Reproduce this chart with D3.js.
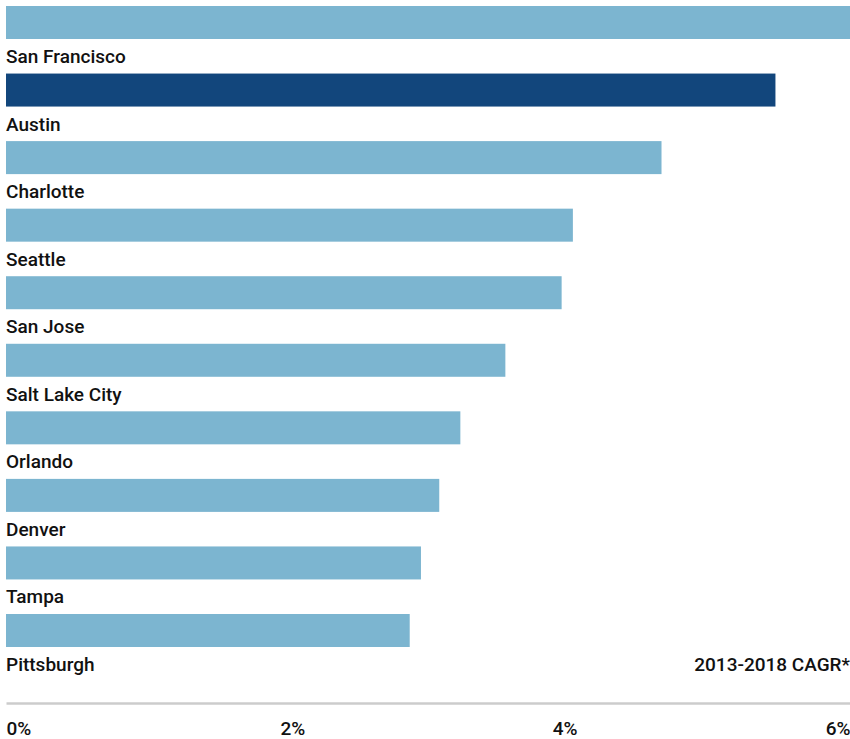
<!DOCTYPE html>
<html>
<head>
<meta charset="utf-8">
<script src="https://cdn.jsdelivr.net/npm/d3@7"></script>
<style>
  body { margin: 0; background: #fff; }
  svg text { font-family: Roboto, "Liberation Sans", sans-serif; fill: #111; font-weight: 500; }
</style>
</head>
<body>
<div id="chart"></div>
<script>
// city job growth, 2013-2018 CAGR (%)
const cities = ["San Francisco", "Austin", "Charlotte", "Seattle", "San Jose",
                "Salt Lake City", "Orlando", "Denver", "Tampa", "Pittsburgh"];
const cagr = [6.0, 5.47, 4.66, 4.03, 3.95, 3.55, 3.23, 3.08, 2.95, 2.87];
const highlight = "Austin";
const tickVals = [0, 2, 4, 6];
const tickLabels = ["0%", "2%", "4%", "6%"];
const axisTitle = "2013-2018 CAGR*";

const W = 850, H = 739;
const left = 6, right = 850;
const fs = "19px";

const svg = d3.select("#chart").append("svg")
    .attr("width", W)
    .attr("height", H);

const x = d3.scaleLinear().domain([0, 6]).range([left, right]);
const y = d3.scaleBand().domain(cities).range([6, 647])
    .paddingInner(0.5115).paddingOuter(0);

// bars
svg.selectAll("rect.bar")
    .data(cities)
    .enter().append("rect")
    .attr("class", "bar")
    .attr("x", x(0))
    .attr("y", d => y(d))
    .attr("width", (d, i) => x(cagr[i]) - x(0))
    .attr("height", y.bandwidth())
    .attr("fill", d => d === highlight ? "#12467c" : "#7cb5d0");

// city names under each bar
svg.selectAll("text.city")
    .data(cities)
    .enter().append("text")
    .attr("class", "city")
    .attr("x", x(0))
    .attr("y", d => y(d) + y.bandwidth() + 24)
    .style("font-size", fs)
    .text(d => d);

svg.append("text")
    .attr("x", right)
    .attr("y", y(cities[cities.length - 1]) + y.bandwidth() + 24)
    .attr("text-anchor", "end")
    .style("font-size", fs)
    .text(axisTitle);

// axis
const xAxis = d3.axisBottom(x)
    .tickValues(tickVals)
    .tickFormat((d, i) => tickLabels[i])
    .tickSize(0)
    .tickPadding(0);

const g = svg.append("g")
    .attr("transform", "translate(0,703)")
    .call(xAxis);

g.select(".domain")
    .attr("stroke", "#cccccc")
    .attr("stroke-width", 2.5);

// labels spread like the original (first left, last right)
g.selectAll(".tick text")
    .attr("y", 32)
    .attr("dy", null)
    .style("font-size", fs)
    .style("font-weight", 500)
    .attr("fill", "#111")
    .attr("text-anchor", (d, i) => i === 0 ? "start" : (i === tickVals.length - 1 ? "end" : "middle"))
    .attr("dx", (d, i) => [0, 5, -4, 0][i]);
</script>
</body>
</html>
